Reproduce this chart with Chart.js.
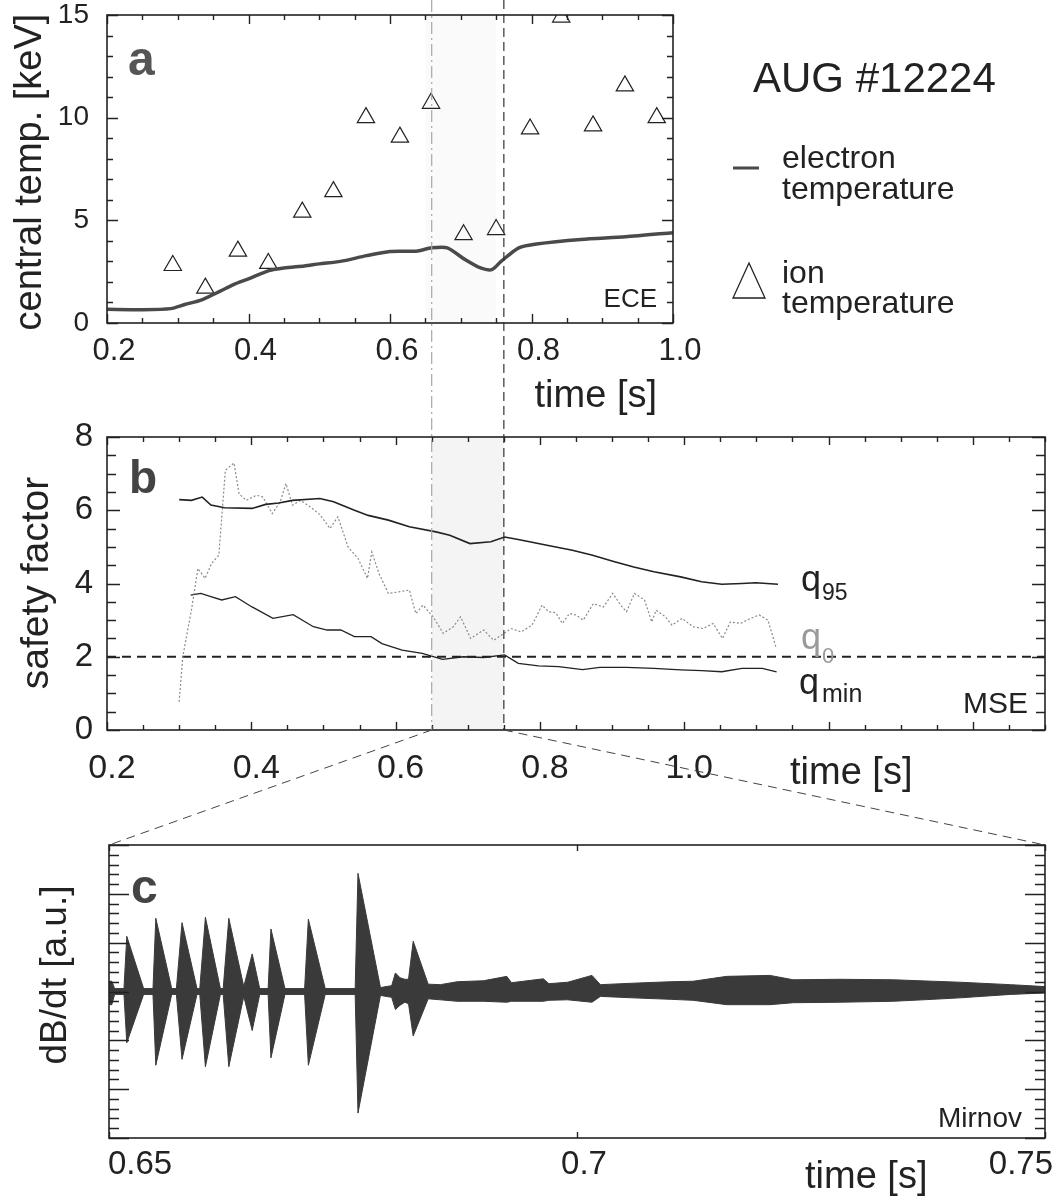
<!DOCTYPE html>
<html lang="en">
<head>
<meta charset="UTF-8">
<title>AUG #12224</title>
<script src="https://cdn.jsdelivr.net/npm/chart.js"></script>
<style>
  body { margin: 0; background: #fff; }
  #page { position: relative; width: 1064px; height: 1199px; overflow: hidden; background: #fff; }
  canvas { position: absolute; left: 0; }
  #cA { top: 0; }
  #cB { top: 420px; }
  #cC { top: 800px; }
  #overlay { top: 0; pointer-events: none; }
</style>
</head>
<body>
<div id="page">
  <canvas id="cA" width="1064" height="420"></canvas>
  <canvas id="cB" width="1064" height="380"></canvas>
  <canvas id="cC" width="1064" height="399"></canvas>
  <canvas id="overlay" width="1064" height="1199"></canvas>
</div>
<script>
const INK = '#222';
const FONT = '"Liberation Sans", Arial, Helvetica, sans-serif';

// zoomed window (panel c) marked in panels a and b
const zoomStart = 0.65;
const zoomEnd = 0.75;

// panel a: central temperatures
const aTimeTicks = [0.2, 0.4, 0.6, 0.8, 1.0];
const aTempTicks = [0, 5, 10, 15];
const teTime = [0.20, 0.25, 0.29, 0.31, 0.334, 0.36, 0.378, 0.40, 0.429, 0.45, 0.479, 0.50, 0.53, 0.567, 0.60, 0.637, 0.659, 0.681, 0.706, 0.728, 0.744, 0.757, 0.782, 0.807, 0.87, 0.933, 1.0];
const teValue = [0.67, 0.65, 0.70, 0.90, 1.13, 1.55, 1.86, 2.15, 2.55, 2.68, 2.78, 2.88, 3.00, 3.28, 3.48, 3.50, 3.66, 3.66, 3.09, 2.68, 2.60, 3.00, 3.66, 3.85, 4.07, 4.20, 4.40];
const tiTime = [0.293, 0.339, 0.385, 0.428, 0.476, 0.520, 0.566, 0.614, 0.658, 0.704, 0.750, 0.798, 0.842, 0.887, 0.932, 0.977];
const tiValue = [2.8, 1.7, 3.5, 2.9, 5.4, 6.4, 10.0, 9.05, 10.7, 4.3, 4.55, 9.45, 14.9, 9.6, 11.55, 10.0];

// panel b: safety factor
const bTimeTicks = [0.2, 0.4, 0.6, 0.8, 1.0];
const bQTicks = [0, 2, 4, 6, 8];
const qRef = 2;
const q95Time = [0.300, 0.317, 0.332, 0.344, 0.363, 0.401, 0.420, 0.438, 0.457, 0.495, 0.514, 0.543, 0.562, 0.590, 0.619, 0.656, 0.675, 0.703, 0.732, 0.751, 0.770, 0.808, 0.845, 0.873, 0.901, 0.930, 0.958, 0.995, 1.024, 1.052, 1.080, 1.099, 1.130];
const q95Value = [6.29, 6.27, 6.36, 6.14, 6.07, 6.05, 6.16, 6.20, 6.27, 6.32, 6.23, 6.00, 5.86, 5.73, 5.55, 5.41, 5.32, 5.09, 5.14, 5.27, 5.20, 5.05, 4.91, 4.77, 4.61, 4.45, 4.32, 4.18, 4.05, 3.98, 4.00, 4.02, 3.98];
const q0Time = [0.300, 0.305, 0.317, 0.326, 0.336, 0.345, 0.355, 0.364, 0.376, 0.383, 0.393, 0.407, 0.416, 0.429, 0.440, 0.448, 0.457, 0.468, 0.482, 0.496, 0.509, 0.520, 0.534, 0.548, 0.561, 0.567, 0.577, 0.590, 0.604, 0.619, 0.628, 0.638, 0.652, 0.666, 0.680, 0.690, 0.704, 0.722, 0.736, 0.760, 0.774, 0.789, 0.803, 0.812, 0.822, 0.831, 0.841, 0.850, 0.860, 0.874, 0.888, 0.901, 0.912, 0.920, 0.931, 0.945, 0.955, 0.961, 0.974, 0.983, 0.997, 1.012, 1.026, 1.040, 1.053, 1.064, 1.078, 1.092, 1.104, 1.116, 1.127];
const q0Value = [0.77, 2.0, 3.27, 4.41, 4.14, 4.55, 4.77, 7.09, 7.29, 6.45, 6.27, 6.41, 6.36, 5.91, 6.23, 6.73, 6.14, 6.27, 6.09, 5.86, 5.50, 5.82, 5.00, 4.68, 4.14, 4.86, 4.27, 3.73, 3.77, 3.82, 3.18, 3.41, 3.09, 2.64, 2.82, 3.09, 2.50, 2.73, 2.45, 2.77, 2.68, 2.86, 3.41, 3.23, 3.20, 2.91, 3.18, 3.14, 3.00, 3.45, 3.36, 3.73, 3.41, 3.23, 3.73, 3.55, 2.95, 3.27, 3.09, 2.86, 3.05, 2.82, 2.77, 2.91, 2.50, 2.95, 2.91, 3.05, 3.14, 3.00, 2.27];
const qminTime = [0.316, 0.330, 0.344, 0.359, 0.378, 0.401, 0.430, 0.458, 0.486, 0.505, 0.524, 0.543, 0.566, 0.581, 0.609, 0.637, 0.665, 0.694, 0.722, 0.751, 0.770, 0.798, 0.826, 0.859, 0.883, 0.920, 0.958, 0.995, 1.024, 1.052, 1.080, 1.108, 1.128];
const qminValue = [3.68, 3.73, 3.64, 3.55, 3.64, 3.36, 3.05, 3.15, 2.82, 2.73, 2.73, 2.55, 2.55, 2.36, 2.18, 2.09, 1.93, 2.00, 1.98, 2.05, 1.82, 1.75, 1.73, 1.65, 1.71, 1.71, 1.68, 1.64, 1.62, 1.59, 1.68, 1.68, 1.59];

// panel c: Mirnov dB/dt envelope (upper / lower edge of the oscillating signal)
const cTimeTicks = [0.65, 0.7, 0.75];
const mirnovTime = [0.6500, 0.6503, 0.6506, 0.6516, 0.6519, 0.6537, 0.6547, 0.6550, 0.6567, 0.6572, 0.6578, 0.6594, 0.6597, 0.6603, 0.6619, 0.6622, 0.6628, 0.6644, 0.6653, 0.6661, 0.6670, 0.6673, 0.6688, 0.6709, 0.6713, 0.6731, 0.6763, 0.6766, 0.6790, 0.6802, 0.6806, 0.6811, 0.6816, 0.6820, 0.6825, 0.6841, 0.6854, 0.6872, 0.6900, 0.6925, 0.6930, 0.6964, 0.6970, 0.6990, 0.7016, 0.7025, 0.7060, 0.7100, 0.7124, 0.7160, 0.7206, 0.7231, 0.7280, 0.7338, 0.7380, 0.7409, 0.7463, 0.7500];
const mirnovUpper = [0.21, 0.21, 0.06, 0.06, 1.13, 0.06, 0.06, 1.50, 0.06, 0.06, 1.41, 0.06, 0.06, 1.52, 0.06, 0.06, 1.50, 0.10, 0.77, 0.06, 0.06, 1.28, 0.06, 0.06, 1.48, 0.06, 0.06, 2.42, 0.08, 0.12, 0.38, 0.28, 0.25, 0.25, 1.03, 0.15, 0.14, 0.20, 0.22, 0.31, 0.18, 0.26, 0.16, 0.19, 0.33, 0.14, 0.17, 0.20, 0.21, 0.31, 0.33, 0.24, 0.25, 0.24, 0.21, 0.19, 0.14, 0.10];
const mirnovLower = [-0.27, -0.27, -0.06, -0.06, -1.05, -0.06, -0.06, -1.51, -0.06, -0.06, -1.39, -0.06, -0.06, -1.54, -0.06, -0.06, -1.54, -0.10, -0.80, -0.06, -0.06, -1.36, -0.06, -0.06, -1.51, -0.06, -0.06, -2.49, -0.08, -0.12, -0.37, -0.28, -0.22, -0.25, -0.91, -0.15, -0.17, -0.20, -0.20, -0.22, -0.20, -0.20, -0.18, -0.17, -0.22, -0.10, -0.13, -0.16, -0.18, -0.27, -0.27, -0.23, -0.22, -0.20, -0.16, -0.13, -0.06, -0.03];

const pts = (xs, ys) => xs.map((x, i) => ({ x, y: ys[i] }));

function text(ctx, str, x, y, size, opts = {}) {
  ctx.save();
  ctx.font = `${opts.bold ? 'bold ' : ''}${size}px ${FONT}`;
  ctx.fillStyle = opts.color || INK;
  ctx.textAlign = opts.align || 'left';
  ctx.textBaseline = opts.baseline || 'alphabetic';
  ctx.translate(x, y);
  if (opts.rotate) ctx.rotate(opts.rotate);
  ctx.fillText(str, 0, 0);
  ctx.restore();
}

function stepValues(min, max, step) {
  const out = [];
  const first = Math.ceil(min / step - 1e-6);
  for (let i = first; i * step <= max + 1e-9; i++) out.push(i * step);
  return out;
}
const isMultiple = (v, m) => Math.abs(v / m - Math.round(v / m)) < 1e-6;

// box frame with inward ticks on all four sides
function drawFrame(chart, t) {
  const { ctx, chartArea: a, scales: { x, y } } = chart;
  ctx.save();
  ctx.strokeStyle = INK;
  ctx.lineWidth = 1.4;
  ctx.setLineDash([]);
  ctx.beginPath();
  stepValues(x.min, x.max, t.xStep).forEach((v) => {
    const px = Math.round(x.getPixelForValue(v)) + 0.5;
    const len = isMultiple(v, t.xMajor) ? t.xMajorLen : t.xMinorLen;
    ctx.moveTo(px, a.bottom); ctx.lineTo(px, a.bottom - len);
    ctx.moveTo(px, a.top); ctx.lineTo(px, a.top + len);
  });
  stepValues(y.min, y.max, t.yStep).forEach((v) => {
    const py = Math.round(y.getPixelForValue(v)) + 0.5;
    const len = isMultiple(v, t.yMajor) ? t.yMajorLen : t.yMinorLen;
    ctx.moveTo(a.left, py); ctx.lineTo(a.left + len, py);
    ctx.moveTo(a.right, py); ctx.lineTo(a.right - len, py);
  });
  ctx.stroke();
  ctx.lineWidth = 1.6;
  ctx.strokeRect(a.left, a.top, a.right - a.left, a.bottom - a.top);
  ctx.restore();
}

function shadeWindow(chart, alpha) {
  const { ctx, chartArea: a, scales: { x } } = chart;
  ctx.save();
  ctx.fillStyle = `rgba(0,0,0,${alpha})`;
  const x0 = x.getPixelForValue(zoomStart);
  ctx.fillRect(x0, a.top, x.getPixelForValue(zoomEnd) - x0, a.bottom - a.top);
  ctx.restore();
}

function baseOptions(pad, xRange, yRange) {
  return {
    responsive: false,
    animation: false,
    events: [],
    layout: { padding: pad },
    plugins: { legend: { display: false }, tooltip: { enabled: false } },
    elements: { point: { radius: 0 } },
    scales: {
      x: { type: 'linear', display: false, min: xRange[0], max: xRange[1] },
      y: { type: 'linear', display: false, min: yRange[0], max: yRange[1] },
    },
  };
}

// ---------- panel a ----------
const chartA = new Chart(document.getElementById('cA'), {
  type: 'line',
  data: {
    datasets: [
      { data: pts(teTime, teValue), borderColor: '#4a4a4a', borderWidth: 3.5, tension: 0.25, fill: false },
      {
        data: pts(tiTime, tiValue), showLine: false, pointStyle: 'triangle', pointRadius: 10,
        pointBorderColor: INK, pointBackgroundColor: 'rgba(0,0,0,0)', pointBorderWidth: 1.2,
      },
    ],
  },
  options: baseOptions({ left: 107, right: 391, top: 15, bottom: 97 }, [0.2, 1.0], [0, 15]),
  plugins: [{
    id: 'decorA',
    beforeDatasetsDraw(chart) { shadeWindow(chart, 0.02); },
    afterDatasetsDraw(chart) {
      const { ctx, chartArea: a, scales: { x, y } } = chart;
      drawFrame(chart, { xStep: 0.05, xMajor: 0.2, xMinorLen: 5, xMajorLen: 9, yStep: 1, yMajor: 5, yMinorLen: 6, yMajorLen: 11 });
      aTempTicks.forEach((v) => text(ctx, String(v), a.left - 18, y.getPixelForValue(v), 28, { align: 'right', baseline: 'middle' }));
      aTimeTicks.forEach((v) => text(ctx, v.toFixed(1), x.getPixelForValue(v) + 7, a.bottom + 28, 31, { align: 'center', baseline: 'middle' }));
      text(ctx, 'time [s]', a.right - 16, a.bottom + 74, 38, { align: 'right', baseline: 'middle' });
      text(ctx, 'central temp. [keV]', 31, 172, 38, { align: 'center', baseline: 'middle', rotate: -Math.PI / 2 });
      text(ctx, 'a', a.left + 21, a.top + 60, 48, { bold: true, color: '#555' });
      text(ctx, 'ECE', a.right - 16, a.bottom - 16, 26, { align: 'right' });

      // title and legend on the right
      text(ctx, 'AUG #12224', 753, 92, 42);
      ctx.save();
      ctx.strokeStyle = '#4a4a4a';
      ctx.lineWidth = 3;
      ctx.beginPath(); ctx.moveTo(733, 168); ctx.lineTo(759, 168); ctx.stroke();
      ctx.strokeStyle = INK;
      ctx.lineWidth = 1.3;
      ctx.beginPath(); ctx.moveTo(749, 263); ctx.lineTo(765, 298); ctx.lineTo(733, 298); ctx.closePath(); ctx.stroke();
      ctx.restore();
      text(ctx, 'electron', 782, 168, 32);
      text(ctx, 'temperature', 782, 199, 32);
      text(ctx, 'ion', 782, 283, 32);
      text(ctx, 'temperature', 782, 313, 32);
    },
  }],
});

// ---------- panel b ----------
const chartB = new Chart(document.getElementById('cB'), {
  type: 'line',
  data: {
    datasets: [
      { data: pts(q95Time, q95Value), borderColor: INK, borderWidth: 1.6, fill: false },
      { data: pts(q0Time, q0Value), borderColor: '#8a8a8a', borderWidth: 1.2, borderDash: [2, 2], fill: false },
      { data: pts(qminTime, qminValue), borderColor: INK, borderWidth: 1.3, fill: false },
    ],
  },
  options: baseOptions({ left: 107, right: 19, top: 17, bottom: 70 }, [0.2, 1.5], [0, 8]),
  plugins: [{
    id: 'decorB',
    beforeDatasetsDraw(chart) {
      shadeWindow(chart, 0.045);
      const { ctx, chartArea: a, scales: { y } } = chart;
      ctx.save();
      ctx.strokeStyle = INK;
      ctx.lineWidth = 2;
      ctx.setLineDash([9, 6]);
      ctx.beginPath();
      ctx.moveTo(a.left, y.getPixelForValue(qRef));
      ctx.lineTo(a.right, y.getPixelForValue(qRef));
      ctx.stroke();
      ctx.restore();
    },
    afterDatasetsDraw(chart) {
      const { ctx, chartArea: a, scales: { x, y } } = chart;
      drawFrame(chart, { xStep: 0.05, xMajor: 0.2, xMinorLen: 5, xMajorLen: 8, yStep: 0.5, yMajor: 2, yMinorLen: 9, yMajorLen: 13 });
      bQTicks.forEach((v) => text(ctx, String(v), a.left - 14, y.getPixelForValue(v), 33, { align: 'right', baseline: 'middle' }));
      bTimeTicks.forEach((v) => text(ctx, v.toFixed(1), x.getPixelForValue(v) + 5, a.bottom + 39, 34, { align: 'center', baseline: 'middle' }));
      text(ctx, 'time [s]', 790, a.bottom + 44, 38, { baseline: 'middle' });
      text(ctx, 'safety factor', 37, 163, 39, { align: 'center', baseline: 'middle', rotate: -Math.PI / 2 });
      text(ctx, 'b', a.left + 22, a.top + 56, 46, { bold: true, color: '#444' });
      text(ctx, 'MSE', a.right - 17, a.bottom - 17, 30, { align: 'right' });
      text(ctx, 'q', 801, 171, 36);
      text(ctx, '95', 822, 180, 23);
      text(ctx, 'q', 801, 229, 36, { color: '#9a9a9a' });
      text(ctx, '0', 822, 243, 22, { color: '#9a9a9a' });
      text(ctx, 'q', 799, 274, 36);
      text(ctx, 'min', 822, 282, 25);
    },
  }],
});

// ---------- panel c ----------
const chartC = new Chart(document.getElementById('cC'), {
  type: 'line',
  data: {
    datasets: [
      { data: pts(mirnovTime, mirnovUpper), borderColor: '#3a3a3a', borderWidth: 1, backgroundColor: '#3a3a3a', fill: '+1' },
      { data: pts(mirnovTime, mirnovLower), borderColor: '#3a3a3a', borderWidth: 1, fill: false },
    ],
  },
  options: baseOptions({ left: 109, right: 19, top: 45, bottom: 61 }, [0.65, 0.75], [-3, 3]),
  plugins: [{
    id: 'decorC',
    afterDatasetsDraw(chart) {
      const { ctx, chartArea: a, scales: { x } } = chart;
      drawFrame(chart, { xStep: 0.05, xMajor: 0.05, xMinorLen: 6, xMajorLen: 6, yStep: 0.2, yMajor: 1, yMinorLen: 10, yMajorLen: 20 });
      const last = cTimeTicks.length - 1;
      cTimeTicks.forEach((v, i) => {
        const px = x.getPixelForValue(v);
        const align = i === 0 ? 'left' : i === last ? 'right' : 'center';
        const dx = i === 0 ? -1 : i === last ? 8 : 7;
        text(ctx, String(v), px + dx, a.bottom + 27, 33, { align, baseline: 'middle' });
      });
      text(ctx, 'time [s]', 805, a.bottom + 40, 38, { baseline: 'middle' });
      text(ctx, 'dB/dt [a.u.]', 56, 175, 37, { align: 'center', baseline: 'middle', rotate: -Math.PI / 2 });
      text(ctx, 'c', a.left + 22, a.top + 58, 48, { bold: true, color: '#444' });
      text(ctx, 'Mirnov', a.right - 23, a.bottom - 11, 28, { align: 'right' });
    },
  }],
});

// ---------- window markers and zoom connectors across panels ----------
(function drawOverlay() {
  const ctx = document.getElementById('overlay').getContext('2d');
  const topB = 420;
  const topC = 800;
  const xs = chartB.scales.x;
  const bBottom = topB + chartB.chartArea.bottom;
  const x0 = xs.getPixelForValue(zoomStart);
  const x1 = xs.getPixelForValue(zoomEnd);
  ctx.lineWidth = 1.2;

  ctx.strokeStyle = '#a8a8a8';
  ctx.setLineDash([12, 4, 2, 4]);
  ctx.beginPath(); ctx.moveTo(x0, 0); ctx.lineTo(x0, bBottom); ctx.stroke();

  ctx.strokeStyle = '#333';
  ctx.setLineDash([9, 5]);
  ctx.beginPath(); ctx.moveTo(x1, 0); ctx.lineTo(x1, bBottom); ctx.stroke();

  ctx.lineWidth = 1;
  ctx.setLineDash([9, 6]);
  ctx.strokeStyle = '#444';
  ctx.beginPath();
  ctx.moveTo(x0, bBottom); ctx.lineTo(chartC.chartArea.left, topC + chartC.chartArea.top);
  ctx.moveTo(x1, bBottom); ctx.lineTo(chartC.chartArea.right, topC + chartC.chartArea.top);
  ctx.stroke();
})();
</script>
</body>
</html>
